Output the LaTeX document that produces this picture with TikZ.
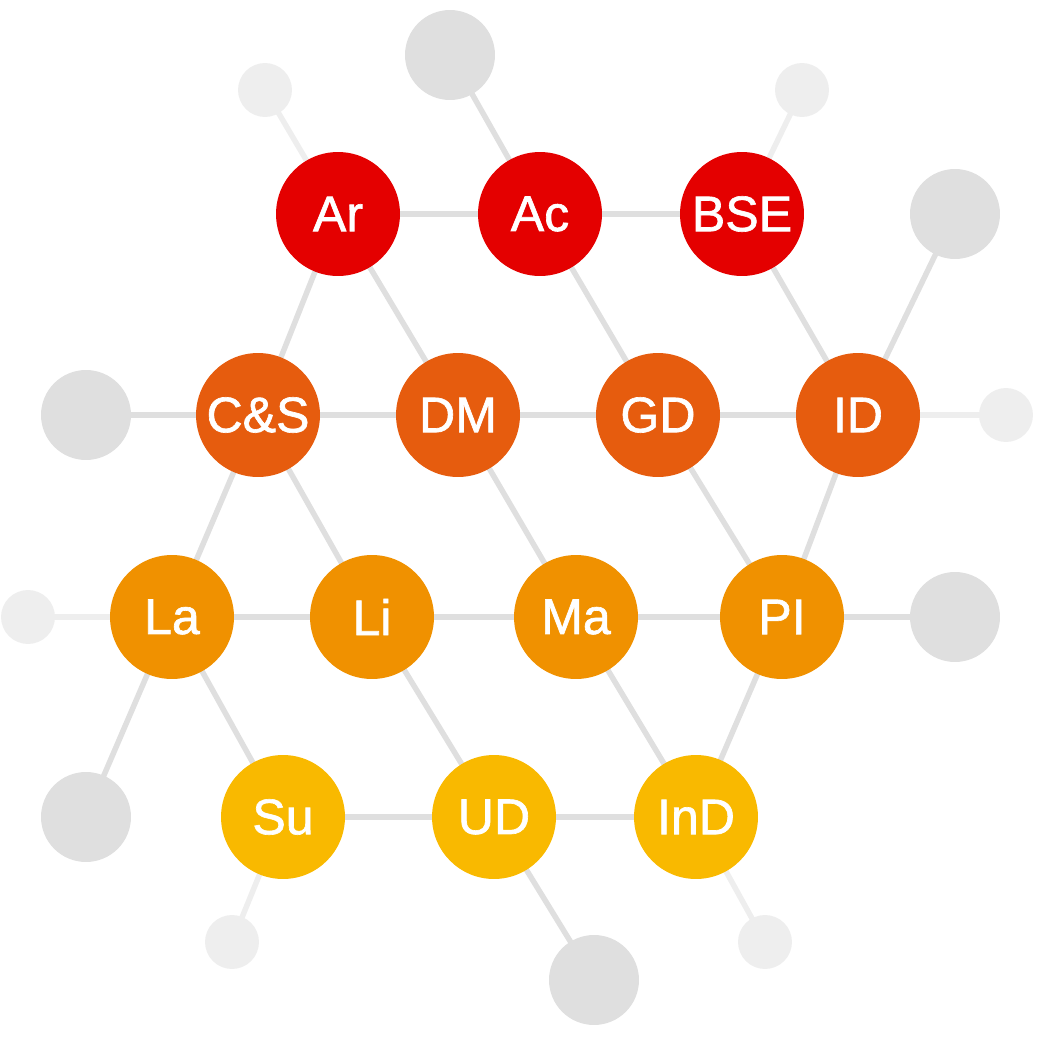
\documentclass[tikz,border=0pt]{standalone}
\usepackage{fontspec}
\setmainfont{Liberation Sans}
\newfontfamily\labelfont[FakeBold=1.3]{Liberation Sans}
\usepackage{xcolor}
\usetikzlibrary{backgrounds}
\definecolor{rd}{HTML}{E40000}
\definecolor{dk}{HTML}{E65C0E}
\definecolor{or}{HTML}{F09100}
\definecolor{yl}{HTML}{F9B900}
\definecolor{gb}{HTML}{DFDFDF}
\definecolor{gs}{HTML}{EEEEEE}
\begin{document}
\begin{tikzpicture}[x=0.02cm, y=-0.02cm,
    topic/.style={circle, minimum size=2.48cm, inner sep=0pt, text=white,
      font=\labelfont\fontsize{28.5}{30}\selectfont},
    big/.style={circle, minimum size=1.8cm, inner sep=0pt, fill=gb},
    small/.style={circle, minimum size=1.08cm, inner sep=0pt, fill=gs},
    link/.style={draw=gb, line width=0.11cm},
    faint/.style={draw=gs, line width=0.11cm}]
  \useasboundingbox (0,0) rectangle (1063,1041);
  % outer grey dots
  \node[big] (g1) at (450,55) {};
  \node[big] (g2) at (955,214) {};
  \node[big] (g3) at (86,415) {};
  \node[big] (g4) at (955,617) {};
  \node[big] (g5) at (86,817) {};
  \node[big] (g6) at (594,980) {};
  \node[small] (s1) at (265,90) {};
  \node[small] (s2) at (802,90) {};
  \node[small] (s3) at (1006,415) {};
  \node[small] (s4) at (28,617) {};
  \node[small] (s5) at (232,942) {};
  \node[small] (s6) at (765,942) {};
  % topics
  \node[topic, fill=rd] (ar)  at (338,214) {Ar};
  \node[topic, fill=rd] (ac)  at (540,214) {Ac};
  \node[topic, fill=rd] (bse) at (742,214) {BSE};
  \node[topic, fill=dk] (cs)  at (258,415) {C\&S};
  \node[topic, fill=dk] (dm)  at (458,415) {DM};
  \node[topic, fill=dk] (gd)  at (658,415) {GD};
  \node[topic, fill=dk] (id)  at (858,415) {ID};
  \node[topic, fill=or] (la)  at (172,617) {La};
  \node[topic, fill=or] (li)  at (372,617) {Li};
  \node[topic, fill=or] (ma)  at (576,617) {Ma};
  \node[topic, fill=or] (pl)  at (782,617) {PI};
  \node[topic, fill=yl] (su)  at (283,817) {Su};
  \node[topic, fill=yl] (ud)  at (494,817) {UD};
  \node[topic, fill=yl] (ind) at (696,817) {InD};
  \begin{scope}[on background layer]
    \foreach \a/\b in {ar/ac, ac/bse, ac/g1, ar/cs, ar/dm, ac/gd, bse/id,
        id/g2, g3/cs, cs/dm, dm/gd, gd/id, cs/la, cs/li, dm/ma, gd/pl,
        id/pl, la/li, li/ma, ma/pl, pl/g4, la/g5, la/su, li/ud, ma/ind,
        pl/ind, su/ud, ud/ind, ud/g6}
      \draw[link] (\a.center) -- (\b.center);
    \foreach \a/\b in {ar/s1, bse/s2, id/s3, la/s4, su/s5, ind/s6}
      \draw[faint] (\a.center) -- (\b.center);
  \end{scope}
\end{tikzpicture}
\end{document}
